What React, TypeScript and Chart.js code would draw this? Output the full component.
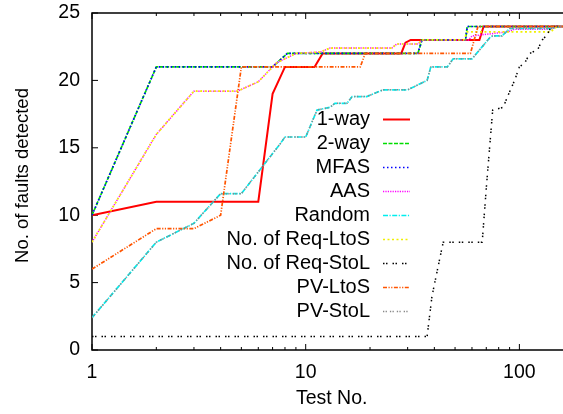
import React, { useEffect, useRef } from "react";
import { Chart, registerables } from "chart.js";

Chart.register(...registerables);

const seriesNames = [
  "1-way",
  "2-way",
  "MFAS",
  "AAS",
  "Random",
  "No. of Req-LtoS",
  "No. of Req-StoL",
  "PV-LtoS",
  "PV-StoL",
];

const oneWayX = [1, 2, 6, 7, 8, 11, 12, 28, 29.3, 31, 65, 68, 160];
const oneWayY = [10, 11, 11, 19, 21, 21, 22, 22, 22.8, 23, 23, 24, 24];

const twoWayX = [1, 2, 7, 8.2, 33.5, 35, 56, 57, 160];
const twoWayY = [10, 21, 21, 22, 22, 23, 23, 24, 24];

const mfasX = [1, 2, 7, 8.2, 33.5, 35, 56, 57, 160];
const mfasY = [10, 21, 21, 22, 22, 23, 23, 24, 24];

const aasX = [1, 2, 3, 4.8, 6, 7.3, 9, 11.7, 13, 25.3, 26.7, 33.6, 35, 58, 60, 88, 95, 140, 150, 160];
const aasY = [8, 16, 19.2, 19.2, 19.9, 21.3, 22, 22.1, 22.4, 22.4, 22.7, 22.7, 23, 23, 23.3, 23.6, 23.8, 23.8, 24, 24];

const randomX = [1, 2, 3, 4, 5, 7.6, 8, 10, 11.3, 13, 13.7, 15.6, 16.5, 19.3, 23, 30, 37, 38.5, 46, 49, 60, 73, 75, 83, 90, 140, 155, 160];
const randomY = [2.4, 8, 9.4, 11.6, 11.6, 15.3, 15.8, 15.8, 17.8, 18, 18.3, 18.3, 18.8, 18.8, 19.3, 19.3, 20, 21, 21, 21.6, 21.6, 23.2, 23.3, 23.3, 23.85, 23.85, 24, 24];

const reqLtoSX = [1, 2, 3, 4.8, 6, 7.3, 9, 11.7, 13, 25.3, 26.7, 33.6, 35, 55, 57, 140, 150, 160];
const reqLtoSY = [8, 16, 19.2, 19.2, 19.9, 21.3, 22, 22.1, 22.4, 22.4, 22.7, 22.7, 23, 23, 23.6, 23.6, 24, 24];

const reqStoLX = [1, 37, 39, 44, 67, 70, 75, 84, 88, 95, 100, 106, 112, 122, 128, 135, 141, 160];
const reqStoLY = [1, 1, 4, 8, 8, 12, 17.8, 18, 18.8, 20, 21, 21.3, 22, 22.3, 23, 23.4, 24, 24];

const pvLtoSX = [1, 2, 3, 4, 5, 18, 19, 59, 64, 160];
const pvLtoSY = [6, 9, 9, 10, 21, 21, 22, 22, 24, 24];

const pvStoLX = [1, 2, 3, 4, 5, 7.6, 8, 10, 11.3, 13, 13.7, 15.6, 16.5, 19.3, 23, 30, 37, 38.5, 46, 49, 60, 73, 75, 83, 90, 140, 155, 160];
const pvStoLY = [2.4, 8, 9.4, 11.6, 11.6, 15.3, 15.8, 15.8, 17.8, 18, 18.3, 18.3, 18.8, 18.8, 19.3, 19.3, 20, 21, 21, 21.6, 21.6, 23.2, 23.3, 23.3, 23.85, 23.85, 24, 24];

const xTickLabels = [1, 10, 100];
const xMinorTicks = [2, 3, 4, 5, 6, 7, 8, 9, 20, 30, 40, 50, 60, 70, 80, 90];
const yTickValues = [0, 5, 10, 15, 20, 25];

const xTitle = "Test No.";
const yTitle = "No. of faults detected";

const FONT = "'Liberation Sans', Arial, Helvetica, sans-serif";

const styles = [
  { color: "#ff0000", width: 2, dash: [] as number[] },
  { color: "#00dd00", width: 1.7, dash: [4, 1.5] },
  { color: "#0000ff", width: 1.7, dash: [1.5, 2.5] },
  { color: "#ff00ff", width: 1.5, dash: [1.2, 1.2] },
  { color: "#00eeee", width: 1.7, dash: [5, 1.5, 1.2, 1.5] },
  { color: "#f0f000", width: 1.7, dash: [2, 2.5] },
  { color: "#000000", width: 1.5, dash: [1.5, 1.5, 1.5, 5] },
  { color: "#ff5500", width: 1.7, dash: [4, 1.5, 1.2, 1.5, 1.2, 1.5] },
  { color: "#888888", width: 1.5, dash: [1.3, 1.3, 1.3, 3] },
];

const seriesX = [oneWayX, twoWayX, mfasX, aasX, randomX, reqLtoSX, reqStoLX, pvLtoSX, pvStoLX];
const seriesY = [oneWayY, twoWayY, mfasY, aasY, randomY, reqLtoSY, reqStoLY, pvLtoSY, pvStoLY];

const framePlugin = {
  id: "frameTicks",
  beforeDatasetsDraw(chart: any) {
    const { ctx, chartArea: a, scales } = chart;
    const x = scales.x;
    const y = scales.y;
    ctx.save();
    ctx.strokeStyle = "#000";
    ctx.lineWidth = 1.5;
    ctx.beginPath();
    ctx.moveTo(a.right + 2, a.top);
    ctx.lineTo(a.left, a.top);
    ctx.lineTo(a.left, a.bottom);
    ctx.lineTo(a.right + 2, a.bottom);
    ctx.stroke();
    ctx.lineWidth = 1;
    const drawX = (v: number, len: number) => {
      const px = x.getPixelForValue(v);
      ctx.beginPath();
      ctx.moveTo(px, a.bottom);
      ctx.lineTo(px, a.bottom - len);
      ctx.moveTo(px, a.top);
      ctx.lineTo(px, a.top + len);
      ctx.stroke();
    };
    xTickLabels.forEach((v) => drawX(v, 6));
    xMinorTicks.forEach((v) => drawX(v, 3));
    yTickValues.forEach((v) => {
      const py = y.getPixelForValue(v);
      ctx.beginPath();
      ctx.moveTo(a.left, py);
      ctx.lineTo(a.left + 6, py);
      ctx.stroke();
    });
    ctx.restore();
  },
  afterDraw(chart: any) {
    const { ctx } = chart;
    ctx.save();
    ctx.fillStyle = "#000";
    ctx.font = `19.5px ${FONT}`;
    ctx.textAlign = "center";
    ctx.textBaseline = "middle";
    ctx.fillText(xTitle, 331.7, 399);
    ctx.save();
    ctx.translate(22.5, 175.5);
    ctx.rotate(-Math.PI / 2);
    ctx.font = `18.5px ${FONT}`;
    ctx.fillText(yTitle, 0, 0);
    ctx.restore();
    ctx.font = `20px ${FONT}`;
    ctx.textAlign = "right";
    chart.data.datasets.forEach((ds: any, i: number) => {
      const ly = 119.5 + 24 * i;
      ctx.fillStyle = "#000";
      ctx.fillText(ds.label, 370, ly);
      ctx.beginPath();
      ctx.strokeStyle = ds.borderColor;
      ctx.lineWidth = ds.borderWidth;
      ctx.setLineDash(ds.borderDash || []);
      ctx.moveTo(383, ly);
      ctx.lineTo(410, ly);
      ctx.stroke();
      ctx.setLineDash([]);
    });
    ctx.restore();
  },
};

export default function App() {
  const ref = useRef<HTMLCanvasElement | null>(null);

  useEffect(() => {
    document.body.style.margin = "0";
    if (!ref.current) return;
    const datasets = seriesNames.map((name, i) => ({
      label: name,
      data: seriesX[i].map((xv, j) => ({ x: xv, y: seriesY[i][j] })),
      borderColor: styles[i].color,
      backgroundColor: styles[i].color,
      borderWidth: styles[i].width,
      borderDash: styles[i].dash,
      pointRadius: 0,
      tension: 0,
      fill: false,
      order: seriesNames.length - 1 - i,
    }));
    const chart = new Chart(ref.current, {
      type: "line",
      data: { datasets },
      options: {
        animation: false,
        responsive: false,
        layout: { padding: { top: 13, right: 0, left: 0, bottom: 0 } },
        plugins: {
          legend: { display: false },
          tooltip: { enabled: false },
        },
        scales: {
          x: {
            type: "logarithmic",
            min: 1,
            max: 160,
            afterFit: (s: any) => {
              s.height = 64;
              s.paddingLeft = 0;
              s.paddingRight = 0;
            },
            afterBuildTicks: (s: any) => {
              s.ticks = xTickLabels.map((v) => ({ value: v }));
            },
            grid: { display: false, drawTicks: false },
            border: { display: false },
            ticks: {
              color: "#000",
              font: { family: FONT, size: 19.5 },
              padding: 11,
              maxRotation: 0,
              autoSkip: false,
              callback: (v: any) => String(v),
            },
          },
          y: {
            type: "linear",
            min: 0,
            max: 25,
            afterFit: (s: any) => {
              s.width = 92;
              s.paddingTop = 0;
              s.paddingBottom = 0;
            },
            grid: { display: false, drawTicks: false },
            border: { display: false },
            ticks: {
              color: "#000",
              stepSize: 5,
              font: { family: FONT, size: 19.5 },
              padding: 12,
            },
          },
        },
      },
      plugins: [framePlugin],
    } as any);
    return () => chart.destroy();
  }, []);

  return (
    <div style={{ width: 563, height: 414 }}>
      <canvas ref={ref} width={563} height={414} />
    </div>
  );
}
